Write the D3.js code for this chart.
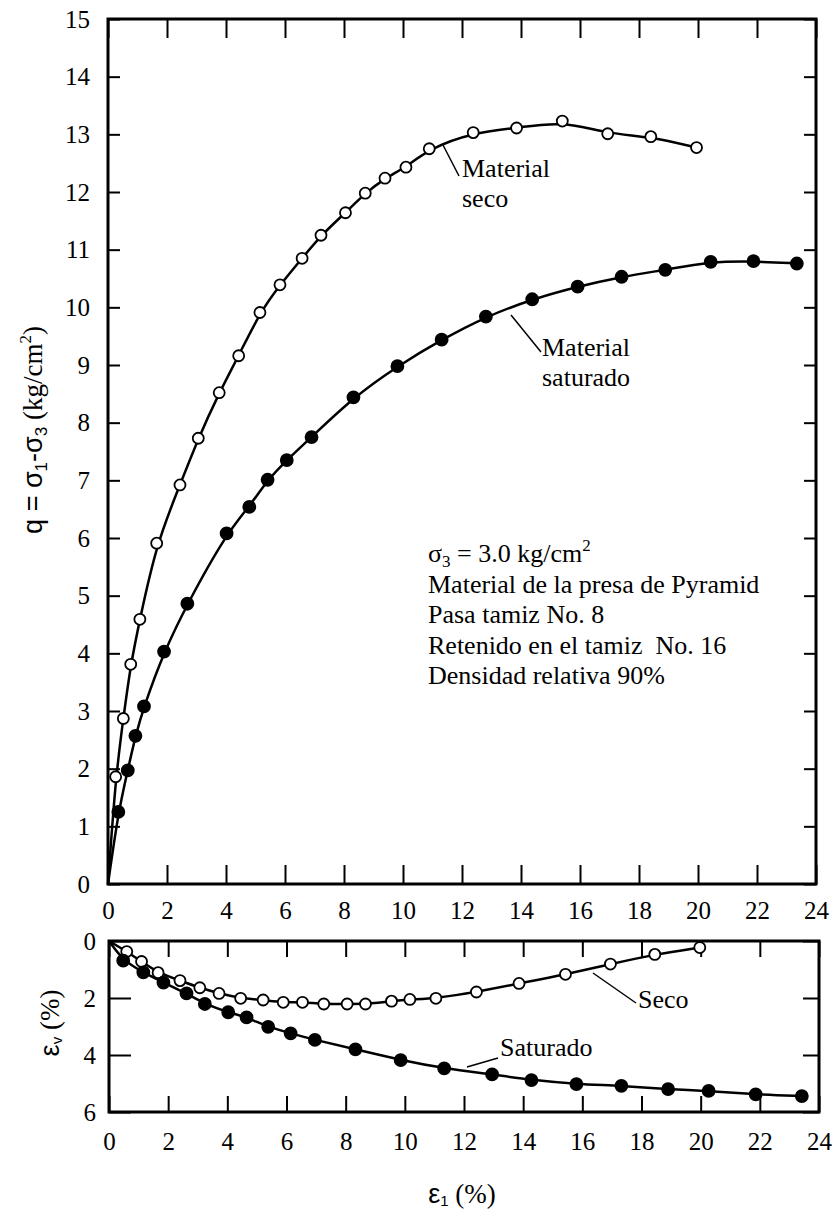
<!DOCTYPE html>
<html>
<head>
<meta charset="utf-8">
<script src="https://cdn.jsdelivr.net/npm/d3@7"></script>
<style>
  body { margin: 0; background: #fff; }
  text { font-family: 'Liberation Serif', 'Times New Roman', serif; fill: #000; }
  tspan.sans { font-family: 'Liberation Sans', Arial, sans-serif; }
</style>
</head>
<body>
<div id="chart"></div>
<script>
// frame
const F_WIDTH = 835;
const F_HEIGHT = 1210;

// top plot: q vs strain
const TOP = {left: 108, right: 816, top: 19, bottom: 884};
// bottom plot: volumetric strain vs strain
const BOT = {left: 109, right: 819, top: 941, bottom: 1112};

// x ticks (axial strain %)
const X_TICKS = [0, 2, 4, 6, 8, 10, 12, 14, 16, 18, 20, 22, 24];
const Q_TICKS = [0, 1, 2, 3, 4, 5, 6, 7, 8, 9, 10, 11, 12, 13, 14, 15];
const EV_TICKS = [0, 2, 4, 6];

// material seco: q
const SECO_X = [0.26, 0.52, 0.77, 1.08, 1.65, 2.44, 3.06, 3.77, 4.43, 5.15, 5.83, 6.58, 7.22, 8.05, 8.72, 9.39, 10.10, 10.89, 12.38, 13.85, 15.40, 16.94, 18.40, 19.95];
const SECO_Q = [1.86, 2.87, 3.81, 4.59, 5.91, 6.92, 7.73, 8.52, 9.16, 9.91, 10.39, 10.85, 11.25, 11.64, 11.98, 12.24, 12.43, 12.75, 13.03, 13.11, 13.23, 13.01, 12.96, 12.77];

// material saturado: q
const SAT_X = [0.35, 0.67, 0.93, 1.22, 1.90, 2.69, 4.02, 4.79, 5.41, 6.06, 6.90, 8.32, 9.81, 11.31, 12.81, 14.38, 15.92, 17.41, 18.89, 20.43, 21.88, 23.35];
const SAT_Q = [1.25, 1.97, 2.57, 3.08, 4.03, 4.86, 6.08, 6.54, 7.01, 7.35, 7.75, 8.44, 8.98, 9.44, 9.84, 10.14, 10.36, 10.53, 10.65, 10.79, 10.80, 10.76];

// seco: volumetric strain
const SECO_EX = [0.60, 1.10, 1.66, 2.40, 3.07, 3.72, 4.45, 5.21, 5.89, 6.54, 7.26, 8.05, 8.67, 9.55, 10.17, 11.05, 12.42, 13.86, 15.43, 16.95, 18.45, 19.97];
const SECO_EV = [0.37, 0.72, 1.11, 1.39, 1.64, 1.84, 2.01, 2.07, 2.15, 2.15, 2.21, 2.21, 2.21, 2.11, 2.05, 2.01, 1.79, 1.49, 1.17, 0.81, 0.47, 0.23];

// saturado: volumetric strain
const SAT_EX = [0.48, 1.16, 1.84, 2.62, 3.24, 4.03, 4.65, 5.38, 6.14, 6.96, 8.33, 9.86, 11.33, 12.95, 14.28, 15.80, 17.32, 18.90, 20.27, 21.86, 23.42];
const SAT_EV = [0.69, 1.10, 1.46, 1.84, 2.21, 2.50, 2.68, 3.01, 3.24, 3.47, 3.80, 4.18, 4.47, 4.68, 4.88, 5.02, 5.08, 5.20, 5.26, 5.38, 5.44];

const NOTES = ["Material de la presa de Pyramid", "Pasa tamiz No. 8", "Retenido en el tamiz\u00a0 No. 16", "Densidad relativa 90%"];

const SERIF = "'Liberation Serif', 'Times New Roman', serif";
const SANS = "'Liberation Sans', Arial, sans-serif";

const SVG = d3.select("#chart")
              .append("svg")
                .attr("width", F_WIDTH)
                .attr("height", F_HEIGHT);

// scales
const X_TOP = d3.scaleLinear().domain([0, 24]).range([TOP.left, TOP.right]);
const Y_TOP = d3.scaleLinear().domain([0, 15]).range([TOP.bottom, TOP.top]);
const X_BOT = d3.scaleLinear().domain([0, 24]).range([BOT.left, BOT.right]);
const Y_BOT = d3.scaleLinear().domain([0, 6]).range([BOT.top, BOT.bottom]);

const FMT = d3.format("d");

function styleAxis(g) {
  g.select(".domain").remove();
  g.selectAll(".tick line").attr("stroke", "#000").attr("stroke-width", 2);
  g.selectAll(".tick text")
    .style("font-family", SERIF)
    .style("font-size", "25px")
    .attr("fill", "#000");
}

// ---- top plot axes
SVG.append("g")
   .attr("transform", "translate(0," + TOP.bottom + ")")
   .call(d3.axisBottom(X_TOP).tickValues(X_TICKS).tickFormat(FMT).tickSize(-19).tickPadding(17))
   .call(styleAxis);
SVG.append("g")
   .attr("transform", "translate(0," + TOP.top + ")")
   .call(d3.axisTop(X_TOP).tickValues(X_TICKS).tickSize(-19).tickFormat(""))
   .call(styleAxis);
SVG.append("g")
   .attr("transform", "translate(" + TOP.left + ",0)")
   .call(d3.axisLeft(Y_TOP).tickValues(Q_TICKS).tickFormat(FMT).tickSize(-12).tickPadding(18))
   .call(styleAxis);
SVG.append("g")
   .attr("transform", "translate(" + TOP.right + ",0)")
   .call(d3.axisRight(Y_TOP).tickValues(Q_TICKS).tickSize(-12).tickFormat(""))
   .call(styleAxis);

SVG.append("rect")
   .attr("x", TOP.left).attr("y", TOP.top)
   .attr("width", TOP.right - TOP.left).attr("height", TOP.bottom - TOP.top)
   .attr("fill", "none").attr("stroke", "#000").attr("stroke-width", 3);

// ---- bottom plot axes
SVG.append("g")
   .attr("transform", "translate(0," + BOT.bottom + ")")
   .call(d3.axisBottom(X_BOT).tickValues(X_TICKS).tickFormat(FMT).tickSize(-16).tickPadding(20))
   .call(styleAxis);
SVG.append("g")
   .attr("transform", "translate(0," + BOT.top + ")")
   .call(d3.axisTop(X_BOT).tickValues(X_TICKS).tickSize(-16).tickFormat(""))
   .call(styleAxis);
SVG.append("g")
   .attr("transform", "translate(" + BOT.left + ",0)")
   .call(d3.axisLeft(Y_BOT).tickValues(EV_TICKS).tickFormat(FMT).tickSize(-22).tickPadding(13))
   .call(styleAxis);
SVG.append("g")
   .attr("transform", "translate(" + BOT.right + ",0)")
   .call(d3.axisRight(Y_BOT).tickValues(EV_TICKS).tickSize(-16).tickFormat(""))
   .call(styleAxis);

SVG.append("rect")
   .attr("x", BOT.left).attr("y", BOT.top)
   .attr("width", BOT.right - BOT.left).attr("height", BOT.bottom - BOT.top)
   .attr("fill", "none").attr("stroke", "#000").attr("stroke-width", 3);

// ---- curves and points
function drawSeries(xs, ys, xScale, yScale, filled) {
  const pts = xs.map((x, i) => [x, ys[i]]);
  const line = d3.line()
                 .x(d => xScale(d[0]))
                 .y(d => yScale(d[1]))
                 .curve(d3.curveBasis);
  SVG.append("path")
     .datum([[0, 0]].concat(pts))
     .attr("d", line)
     .attr("fill", "none")
     .attr("stroke", "#000")
     .attr("stroke-width", 2.5);
  SVG.append("g")
     .selectAll("circle")
     .data(pts)
     .enter()
     .append("circle")
       .attr("cx", d => xScale(d[0]))
       .attr("cy", d => yScale(d[1]))
       .attr("r", filled ? 6 : 5.5)
       .attr("fill", filled ? "#000" : "#fff")
       .attr("stroke", "#000")
       .attr("stroke-width", 1.8);
}

drawSeries(SECO_X, SECO_Q, X_TOP, Y_TOP, false);
drawSeries(SAT_X, SAT_Q, X_TOP, Y_TOP, true);
drawSeries(SECO_EX, SECO_EV, X_BOT, Y_BOT, false);
drawSeries(SAT_EX, SAT_EV, X_BOT, Y_BOT, true);

// ---- curve labels with leader lines
function label(lines, x, y, x1, y1, x2, y2) {
  SVG.append("line")
     .attr("x1", x1).attr("y1", y1).attr("x2", x2).attr("y2", y2)
     .attr("stroke", "#000").attr("stroke-width", 1.5);
  const t = SVG.append("text").attr("x", x).attr("y", y)
               .style("font-family", SERIF).style("font-size", "26px");
  lines.forEach((s, i) => {
    t.append("tspan").attr("x", x).attr("dy", i == 0 ? 0 : 30).text(s);
  });
}
label(["Material", "seco"], 462, 177, 443, 145, 459, 176);
label(["Material", "saturado"], 542, 356, 511, 315, 541, 352);
label(["Seco"], 638, 1008, 593, 973, 636, 1003);
label(["Saturado"], 500, 1056, 467, 1067, 498, 1058);

// ---- test conditions note
const NOTE = SVG.append("text").attr("x", 428).attr("y", 562)
                .style("font-family", SERIF).style("font-size", "26px");
NOTE.append("tspan").text("σ");
NOTE.append("tspan").style("font-size", "17px").attr("dy", 5).text("3");
NOTE.append("tspan").attr("dy", -5).text(" = 3.0 kg/cm");
NOTE.append("tspan").style("font-size", "17px").attr("dy", -11).text("2");
NOTES.forEach((s, i) => {
  SVG.append("text")
     .attr("x", 428).attr("y", 593 + i * 30.3)
     .style("font-family", SERIF).style("font-size", "26px")
     .text(s);
});

// ---- axis titles
const YT = SVG.append("text")
              .attr("transform", "translate(42,430) rotate(-90)")
              .attr("text-anchor", "middle")
              .style("font-family", SERIF).style("font-size", "27px");
YT.append("tspan").style("font-family", SANS).text("q = σ");
YT.append("tspan").style("font-family", SANS).style("font-size", "17px").attr("dy", 5).text("1");
YT.append("tspan").style("font-family", SANS).attr("dy", -5).text("-σ");
YT.append("tspan").style("font-family", SANS).style("font-size", "17px").attr("dy", 5).text("3");
YT.append("tspan").attr("dy", -5).text(" (kg/cm");
YT.append("tspan").style("font-size", "17px").attr("dy", -11).text("2");
YT.append("tspan").attr("dy", 11).text(")");

const YB = SVG.append("text")
              .attr("transform", "translate(59,1023) rotate(-90)")
              .attr("text-anchor", "middle")
              .style("font-family", SERIF).style("font-size", "27px");
YB.append("tspan").style("font-family", SANS).text("ε");
YB.append("tspan").style("font-family", SANS).style("font-size", "15px").attr("dy", 3).text("v");
YB.append("tspan").attr("dy", -3).text(" (%)");

const XB = SVG.append("text")
              .attr("x", 462).attr("y", 1203)
              .attr("text-anchor", "middle")
              .style("font-family", SERIF).style("font-size", "27px");
XB.append("tspan").style("font-family", SANS).text("ε");
XB.append("tspan").style("font-family", SANS).style("font-size", "15px").attr("dy", 3).text("1");
XB.append("tspan").attr("dy", -3).text(" (%)");
</script>
</body>
</html>
